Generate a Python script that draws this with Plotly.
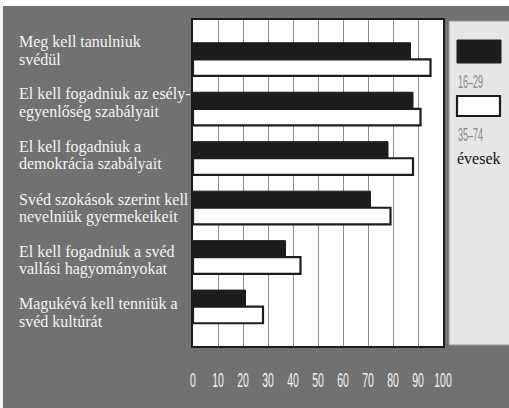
import plotly.graph_objects as go

# ---------------- data ----------------
categories = [
    "Meg kell tanulniuk svédül",
    "El kell fogadniuk az esélyegyenlőség szabályait",
    "El kell fogadniuk a demokrácia szabályait",
    "Svéd szokások szerint kell nevelniük gyermekeiket",
    "El kell fogadniuk a svéd vallási hagyományokat",
    "Magukévá kell tenniük a svéd kultúrát",
]
label_lines = [
    ["Meg kell tanulniuk", "svédül"],
    ["El kell fogadniuk az esély-", "egyenlőség szabályait"],
    ["El kell fogadniuk a", "demokrácia szabályait"],
    ["Svéd szokások szerint kell", "nevelniük gyermekeikeit"],
    ["El kell fogadniuk a svéd", "vallási hagyományokat"],
    ["Magukévá kell tenniük a", "svéd kultúrát"],
]
age_16_29 = [87, 88, 78, 71, 37, 21]
age_35_74 = [95, 91, 88, 79, 43, 28]
series_names = ["16–29", "35–74"]
legend_title = "évesek"
x_ticks = [0, 10, 20, 30, 40, 50, 60, 70, 80, 90, 100]

# ---------------- layout constants ----------------
W, H = 509, 408
L, R, T, B = 193, 443, 20, 346  # plot area in px

BG = "#717171"
SANS = "Liberation Sans, Arial, sans-serif"


def px_x(px):
    return (px - L) / (R - L)


def px_y(py):
    return (B - py) / (B - T)


fig = go.Figure()
fig.add_trace(go.Bar(
    y=categories, x=age_16_29, orientation="h", name=series_names[0],
    marker=dict(color="#1c1c1c", line=dict(color="#1c1c1c", width=1)),
    showlegend=False,
))
fig.add_trace(go.Bar(
    y=categories, x=age_35_74, orientation="h", name=series_names[1],
    marker=dict(color="#ffffff", line=dict(color="#1c1c1c", width=2.2)),
    showlegend=False,
))

shapes = []
annotations = []

# white page border strips (top / left)
shapes.append(dict(type="rect", xref="paper", yref="paper", layer="above",
                   x0=px_x(0), x1=px_x(W), y0=px_y(6), y1=px_y(0),
                   fillcolor="#ffffff", line=dict(width=0)))
shapes.append(dict(type="rect", xref="paper", yref="paper", layer="above",
                   x0=px_x(0), x1=px_x(3), y0=px_y(H), y1=px_y(0),
                   fillcolor="#f4f4f4", line=dict(width=0)))

# legend panel
shapes.append(dict(type="rect", xref="paper", yref="paper", layer="below",
                   x0=px_x(449), x1=px_x(W + 2), y0=px_y(345), y1=px_y(21),
                   fillcolor="#e6e6e6", line=dict(color="#9a9a9a", width=1)))
shapes.append(dict(type="rect", xref="paper", yref="paper",
                   x0=px_x(457), x1=px_x(501), y0=px_y(63), y1=px_y(40),
                   fillcolor="#1c1c1c", line=dict(color="#1c1c1c", width=1)))
shapes.append(dict(type="rect", xref="paper", yref="paper",
                   x0=px_x(457), x1=px_x(500), y0=px_y(116), y1=px_y(96),
                   fillcolor="#ffffff", line=dict(color="#1c1c1c", width=2.2)))

legend_font = dict(family=SANS, size=18, color="#8a8a8a")
annotations.append(dict(xref="paper", yref="paper", x=px_x(456), y=px_y(82),
                        xanchor="left", yanchor="middle", showarrow=False,
                        text=series_names[0], font=legend_font))
annotations.append(dict(xref="paper", yref="paper", x=px_x(456), y=px_y(135),
                        xanchor="left", yanchor="middle", showarrow=False,
                        text=series_names[1], font=legend_font))
annotations.append(dict(xref="paper", yref="paper", x=px_x(455), y=px_y(158),
                        xanchor="left", yanchor="middle", showarrow=False,
                        text=legend_title,
                        font=dict(family="Liberation Serif, serif", size=16, color="#111111")))

# category labels (left aligned)
LABEL_TOP, LABEL_STEP, LINE_GAP = 42, 52.4, 17.5
label_font = dict(family="Liberation Serif, DejaVu Serif, serif", size=16, color="#f4f4f4")
for i, lines in enumerate(label_lines):
    for j, line in enumerate(lines):
        annotations.append(dict(xref="paper", yref="paper", x=px_x(17),
                                y=px_y(LABEL_TOP + i * LABEL_STEP + j * LINE_GAP),
                                xanchor="left", yanchor="middle", showarrow=False,
                                text=line, font=label_font))

fig.update_layout(
    width=W, height=H,
    margin=dict(l=L, r=W - R, t=T, b=H - B, pad=0),
    paper_bgcolor=BG, plot_bgcolor="#ffffff",
    barmode="group", bargap=0.33, bargroupgap=0,
    shapes=shapes, annotations=annotations,
    showlegend=False,
)
fig.update_xaxes(
    range=[0, 100], tickvals=x_ticks, ticktext=[str(v) for v in x_ticks],
    showgrid=True, gridcolor="#8c8c8c", gridwidth=1, tickangle=0,
    zeroline=False, showline=True, linecolor="#1c1c1c", linewidth=2, mirror=True,
    ticks="", ticklabelstandoff=14,
    tickfont=dict(family=SANS, size=21, color="#f2f2f2"),
)
fig.update_yaxes(
    range=[5.795, -0.795], showticklabels=False, showgrid=False, zeroline=False,
    showline=True, linecolor="#1c1c1c", linewidth=2, mirror=True, ticks="",
)

# condensed look for numeric labels (horizontal squeeze of the real text)
post = """
document.body.style.margin='0';document.body.style.overflow='hidden';
(function(){
  var gd = document.getElementById('{plot_id}');
  function squeeze(el, s, mode){
    var t = el.getAttribute('data-ot');
    if (t === null) { t = el.getAttribute('transform') || ''; el.setAttribute('data-ot', t); }
    el.setAttribute('transform', t);
    var bb = el.getBBox();
    var p = mode === 'left' ? bb.x : bb.x + bb.width/2;
    el.setAttribute('transform', t + ' translate(' + p + ',0) scale(' + s + ',1) translate(' + (-p) + ',0)');
  }
  function run(){
    gd.querySelectorAll('g.xtick text').forEach(function(el){ squeeze(el, 0.5, 'mid'); });
    gd.querySelectorAll('text.annotation-text').forEach(function(el){
      var s = el.textContent;
      if (s === '16–29' || s === '35–74') { squeeze(el, 0.5, 'left'); }
    });
  }
  run();
})();
"""

fig.write_html("out.html", config={"displayModeBar": False}, post_script=post)
